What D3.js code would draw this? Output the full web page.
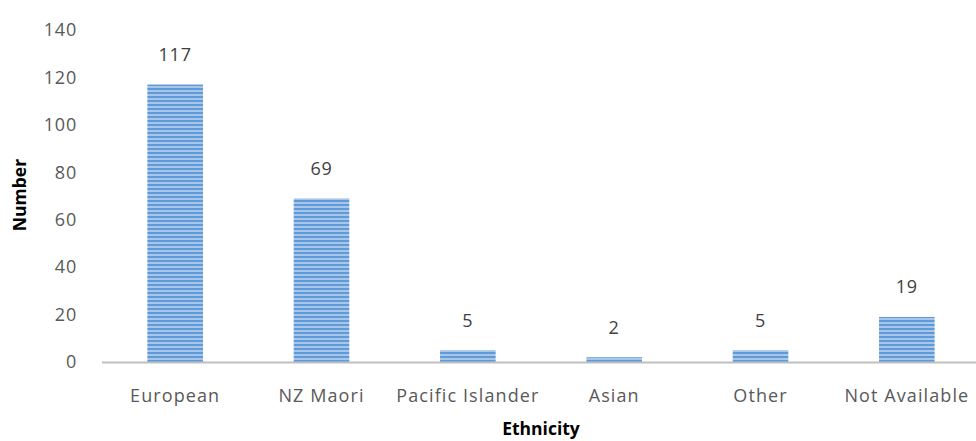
<!DOCTYPE html>
<html><head><meta charset="utf-8">
<script src="https://cdn.jsdelivr.net/npm/d3@7"></script>
<style>body{margin:0;background:#fff;} svg{display:block;}</style>
</head><body>
<script>
const categories = ["European","NZ Maori","Pacific Islander","Asian","Other","Not Available"];
const values = [117,69,5,2,5,19];
const yTicks = [0,20,40,60,80,100,120,140];
const xTitle = "Ethnicity";
const yTitle = "Number";

const W=976,H=441;
const m={left:102,right:-4,top:30,bottom:79};
const svg=d3.select("body").append("svg").attr("width",W).attr("height",H);
const defs=svg.append("defs");
const pat=defs.append("pattern").attr("id","stripe").attr("patternUnits","userSpaceOnUse")
  .attr("width",8).attr("height",4);
pat.append("rect").attr("width",8).attr("height",4).attr("fill","#a7c6ea");
pat.append("rect").attr("y",0).attr("width",8).attr("height",2).attr("fill","#5f9bd8");

const x=d3.scaleBand().domain(categories).range([m.left,W-m.right]).paddingInner(0.62).paddingOuter(0.31);
const y=d3.scaleLinear().domain([0,140]).range([H-m.bottom,m.top]);

const font="'Open Sans', 'Liberation Sans', sans-serif";

svg.selectAll(".bar").data(values).enter().append("rect")
  .attr("x",(d,i)=>x(categories[i])).attr("width",x.bandwidth())
  .attr("y",d=>y(d)).attr("height",d=>y(0)-y(d))
  .attr("fill","url(#stripe)");

// axis line
svg.append("line").attr("x1",m.left).attr("x2",W).attr("y1",y(0)+0.5).attr("y2",y(0)+0.5)
  .attr("stroke","#bfbfbf").attr("stroke-width",2);

// y axis labels
const ya=svg.append("g").attr("transform",`translate(${m.left-25},0)`)
  .call(d3.axisLeft(y).tickValues(yTicks).tickSize(0).tickPadding(0));
ya.select(".domain").remove();
ya.selectAll("text").attr("font-family",font).attr("font-size",18).attr("fill","#595959").attr("letter-spacing","0.8px");

// x labels
const xa=svg.append("g").attr("transform",`translate(0,${y(0)})`)
  .call(d3.axisBottom(x).tickSize(0).tickPadding(27));
xa.select(".domain").remove();
xa.selectAll("text").attr("font-family",font).attr("font-size",18).attr("fill","#595959").attr("letter-spacing","1.1px");

// value labels
svg.selectAll(".lbl").data(values).enter().append("text")
  .attr("x",(d,i)=>x(categories[i])+x.bandwidth()/2).attr("y",d=>y(d)-23.5)
  .attr("text-anchor","middle").attr("font-family",font).attr("font-size",18).attr("fill","#404040")
  .attr("letter-spacing","0.8px")
  .text(d=>d);

svg.append("text").attr("x",(m.left+W-m.right)/2).attr("y",435).attr("text-anchor","middle")
  .attr("font-family",font).attr("font-weight","bold").attr("font-size",17.5).attr("fill","#000").text(xTitle);
svg.append("text").attr("transform",`translate(26,195) rotate(-90)`).attr("text-anchor","middle")
  .attr("font-family",font).attr("font-weight","bold").attr("font-size",17.5).attr("fill","#000").text(yTitle);
</script>
</body></html>
